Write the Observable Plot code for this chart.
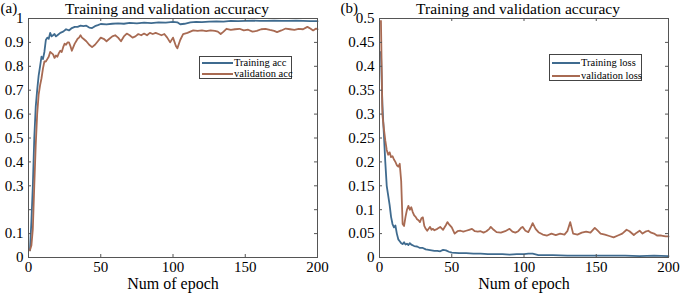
<!DOCTYPE html>
<html>
<head>
<meta charset="utf-8">
<script src="https://cdn.jsdelivr.net/npm/d3@7"></script>
<script src="https://cdn.jsdelivr.net/npm/@observablehq/plot@0.6"></script>
<style>
  html, body { margin: 0; padding: 0; background: #fff; }
  #wrap { position: relative; width: 681px; height: 294px; display: flex; font-family: "Liberation Serif", "Times New Roman", serif; }
  #wrap svg { display: block; font-family: "Liberation Serif", serif; }
  #wrap svg text { font-family: "Liberation Serif", serif; }
  .legend { position: absolute; background: #fff; border: 1px solid #444; box-sizing: border-box; font-size: 10.5px; color: #000; white-space: nowrap; }
  .row { position: absolute; left: 2px; display: flex; align-items: center; height: 12px; line-height: 12px; }
  .swatch { height: 2px; margin-right: 1px; flex: none; }
</style>
</head>
<body>
<div id="wrap"></div>
<script>
// ---------- data ----------
const xTicks = [0, 50, 100, 150, 200];
const yTicksA = [0, 0.1, 0.2, 0.3, 0.4, 0.5, 0.6, 0.7, 0.8, 0.9, 1];
const yLabelsA = ["0", "0.1", "", "0.3", "0.4", "0.5", "0.6", "0.7", "0.8", "0.9", "1"];
const yTicksB = [0, 0.05, 0.1, 0.15, 0.2, 0.25, 0.3, 0.35, 0.4, 0.45, 0.5];
const yLabelsB = ["0", "0.05", "0.1", "0.15", "0.2", "0.25", "0.3", "0.35", "0.4", "0.45", "0.5"];

const titleA = "Training and validation accuracy";
const titleB = "Training and validation accuracy";
const xLabel = "Num of epoch";
const seriesNamesA = ["Training acc", "validation acc"];
const seriesNamesB = ["Training loss", "validation loss"];

const trainAccEpoch = [1,2,3,4,5,6,7,8,9,10,11,12,13,14,15,16,17,18,19,20,22,24,26,28,30,32,34,36,38,40,42,44,46,48,50,54,58,62,66,70,75,80,85,90,95,100,103,105,108,112,116,120,125,130,135,140,145,150,155,160,165,170,175,180,185,190,195,200];
const trainAcc = [0.03,0.15,0.30,0.50,0.63,0.70,0.76,0.80,0.84,0.83,0.86,0.91,0.92,0.915,0.94,0.925,0.93,0.935,0.925,0.93,0.94,0.945,0.955,0.95,0.96,0.965,0.965,0.97,0.968,0.97,0.962,0.96,0.968,0.972,0.977,0.975,0.978,0.98,0.978,0.982,0.98,0.983,0.981,0.984,0.983,0.986,0.984,0.976,0.978,0.984,0.986,0.985,0.987,0.988,0.987,0.99,0.989,0.99,0.991,0.99,0.99,0.991,0.99,0.99,0.991,0.99,0.989,0.989];

const valAccEpoch = [1,2,3,4,5,6,7,8,9,10,11,12,13,14,15,16,17,18,19,20,21,22,23,24,25,26,27,28,29,30,31,32,33,34,35,36,37,38,39,40,42,44,46,48,50,52,54,56,58,60,62,64,66,68,70,72,74,76,78,80,82,84,86,88,90,92,94,96,98,100,102,103,105,107,110,112,114,117,120,123,126,129,131,133,135,137,140,143,146,149,152,155,158,161,164,167,170,172,175,178,181,184,187,190,193,195,197,199,200];
const valAcc = [0.03,0.05,0.12,0.3,0.47,0.6,0.68,0.72,0.75,0.79,0.82,0.82,0.83,0.84,0.86,0.855,0.85,0.835,0.845,0.84,0.855,0.865,0.86,0.88,0.895,0.89,0.9,0.9,0.885,0.865,0.88,0.895,0.905,0.915,0.92,0.93,0.92,0.915,0.91,0.905,0.89,0.88,0.89,0.905,0.92,0.915,0.905,0.915,0.925,0.93,0.92,0.905,0.925,0.937,0.93,0.92,0.925,0.935,0.93,0.937,0.93,0.94,0.935,0.94,0.935,0.93,0.935,0.92,0.9,0.92,0.885,0.875,0.91,0.935,0.94,0.945,0.95,0.948,0.95,0.947,0.95,0.948,0.945,0.935,0.945,0.957,0.952,0.955,0.957,0.95,0.953,0.945,0.948,0.955,0.957,0.952,0.948,0.943,0.95,0.958,0.955,0.952,0.957,0.955,0.965,0.958,0.95,0.958,0.955];

const trainLossEpoch = [1,2,3,4,5,6,7,8,9,10,11,12,13,14,15,16,17,18,19,20,21,22,24,26,28,30,32,34,36,38,40,42,44,46,48,50,55,60,65,70,75,80,85,90,95,100,103,106,110,115,120,130,140,150,160,170,180,190,200];
const trainLoss = [0.43,0.32,0.26,0.20,0.15,0.13,0.11,0.085,0.07,0.063,0.067,0.05,0.038,0.034,0.03,0.028,0.032,0.027,0.029,0.026,0.03,0.027,0.024,0.023,0.02,0.02,0.017,0.016,0.015,0.014,0.014,0.013,0.016,0.015,0.012,0.01,0.009,0.009,0.008,0.008,0.007,0.007,0.007,0.006,0.007,0.007,0.008,0.008,0.005,0.005,0.005,0.004,0.004,0.004,0.004,0.004,0.003,0.004,0.003];

const valLossEpoch = [1,2,3,4,5,6,7,8,9,10,11,12,13,14,15,16,17,18,19,20,21,22,23,24,25,26,27,28,29,30,31,32,33,34,35,36,37,38,40,42,44,46,47,48,50,52,54,56,58,60,62,64,66,68,70,72,74,76,77,79,81,84,87,90,92,94,96,98,99,101,103,105,106,108,110,113,116,119,122,125,128,130,132,134,137,140,143,146,149,151,153,156,159,162,165,168,171,173,176,178,180,182,184,186,188,190,192,195,198,200];
const valLoss = [0.495,0.30,0.27,0.245,0.225,0.215,0.22,0.21,0.212,0.205,0.2,0.193,0.19,0.196,0.16,0.07,0.066,0.085,0.1,0.108,0.1,0.105,0.095,0.088,0.085,0.08,0.078,0.074,0.082,0.084,0.066,0.06,0.056,0.06,0.064,0.058,0.06,0.057,0.06,0.064,0.058,0.068,0.074,0.07,0.063,0.05,0.055,0.056,0.054,0.056,0.058,0.06,0.055,0.054,0.055,0.052,0.055,0.06,0.064,0.058,0.053,0.052,0.055,0.06,0.054,0.052,0.055,0.062,0.064,0.056,0.053,0.065,0.072,0.06,0.053,0.048,0.046,0.05,0.047,0.05,0.048,0.055,0.074,0.05,0.048,0.052,0.054,0.052,0.062,0.056,0.05,0.048,0.045,0.042,0.046,0.05,0.058,0.055,0.047,0.052,0.056,0.05,0.054,0.056,0.052,0.05,0.046,0.046,0.044,0.044];

// ---------- style ----------
const BLUE = "#3f6b8f";
const BROWN = "#a86a52";
const AXIS = "#555";
const FONT = "\"Liberation Serif\", serif";

const pairs = (xs, ys) => xs.map((x, i) => ({x, y: ys[i]}));

function panel({width, marginLeft, marginRight, yDomain, yTicks, yLabels, s1, s2, title, tag, titleDx}) {
  const marginTop = 18, marginBottom = 37, height = 294;
  const innerW = width - marginLeft - marginRight;
  const innerH = height - marginTop - marginBottom;
  const labelMap = new Map(yTicks.map((t, i) => [t, yLabels[i]]));
  return Plot.plot({
    width, height, marginLeft, marginRight, marginTop, marginBottom,
    x: {domain: [0, 200]},
    y: {domain: yDomain},
    style: {fontFamily: FONT, fontSize: "14px", color: "#000", background: "transparent", overflow: "visible"},
    marks: [
      Plot.line(s1, {x: "x", y: "y", stroke: BLUE, strokeWidth: 1.8}),
      Plot.line(s2, {x: "x", y: "y", stroke: BROWN, strokeWidth: 1.8}),
      Plot.frame({stroke: AXIS, strokeWidth: 1}),
      Plot.ruleX(xTicks, {x: d => d, insetTop: innerH - 3, stroke: AXIS}),
      Plot.ruleX(xTicks, {x: d => d, insetBottom: innerH - 3, stroke: AXIS}),
      Plot.ruleY(yTicks, {y: d => d, insetRight: innerW - 3, stroke: AXIS}),
      Plot.ruleY(yTicks, {y: d => d, insetLeft: innerW - 3, stroke: AXIS}),
      Plot.axisX(xTicks, {tickSize: 0, tickPadding: 4, fontSize: 15, fontFamily: FONT, label: null, fill: "#000"}),
      Plot.axisY(yTicks, {tickSize: 0, tickPadding: 5, fontSize: 15, fontFamily: FONT, label: null, fill: "#000", tickFormat: d => labelMap.get(d)}),
      Plot.text([title], {frameAnchor: "top", dy: -5, dx: titleDx, lineAnchor: "bottom", fontSize: 15.5, fontFamily: FONT, fill: "#000"}),
      Plot.text([tag], {frameAnchor: "top-left", dx: -marginLeft, dy: -6, lineAnchor: "bottom", textAnchor: "start", fontSize: 15, fontFamily: FONT, fill: "#000"}),
      Plot.text([xLabel], {frameAnchor: "bottom", dy: 26, lineAnchor: "middle", fontSize: 16, fontFamily: FONT, fill: "#000"})
    ]
  });
}

const wrap = document.getElementById("wrap");
wrap.append(panel({
  width: 340, marginLeft: 28, marginRight: 23, yDomain: [0, 1],
  yTicks: yTicksA, yLabels: yLabelsA,
  s1: pairs(trainAccEpoch, trainAcc), s2: pairs(valAccEpoch, valAcc),
  title: titleA, tag: "(a)", titleDx: -6
}));
wrap.append(panel({
  width: 341, marginLeft: 39, marginRight: 13, yDomain: [0, 0.5],
  yTicks: yTicksB, yLabels: yLabelsB,
  s1: pairs(trainLossEpoch, trainLoss), s2: pairs(valLossEpoch, valLoss),
  title: titleB, tag: "(b)", titleDx: -6
}));

function legend(left, top, w, h, names, rowTops, swatchW) {
  const div = document.createElement("div");
  div.className = "legend";
  Object.assign(div.style, {left: left + "px", top: top + "px", width: w + "px", height: h + "px"});
  [BLUE, BROWN].forEach((c, i) => {
    const row = document.createElement("div");
    row.className = "row";
    row.style.top = rowTops[i] + "px";
    const sw = document.createElement("div");
    sw.className = "swatch";
    sw.style.background = c;
    sw.style.width = swatchW + "px";
    const t = document.createElement("span");
    t.textContent = names[i];
    row.append(sw, t);
    div.append(row);
  });
  wrap.append(div);
}
legend(199, 56, 93, 23, seriesNamesA, [0, 11], 31);
legend(549, 54, 93, 27, seriesNamesB, [2, 15], 28);
</script>
</body>
</html>
